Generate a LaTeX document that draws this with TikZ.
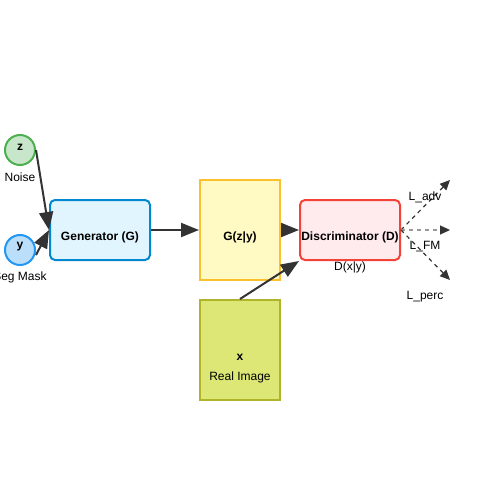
\documentclass[tikz,border=0pt]{standalone}
\usepackage{fontspec}
\setmainfont{Liberation Sans}
\usetikzlibrary{arrows.meta}
\definecolor{gfill}{HTML}{E1F5FE}\definecolor{gdraw}{HTML}{0288D1}
\definecolor{yfill}{HTML}{FFF9C4}\definecolor{ydraw}{HTML}{FBC02D}
\definecolor{dfill}{HTML}{FFEBEE}\definecolor{ddraw}{HTML}{F44336}
\definecolor{rfill}{HTML}{DCE775}\definecolor{rdraw}{HTML}{AFB42B}
\definecolor{zfill}{HTML}{C8E6C9}\definecolor{zdraw}{HTML}{4CAF50}
\definecolor{cfill}{HTML}{BBDEFB}\definecolor{cdraw}{HTML}{2196F3}
\definecolor{arr}{HTML}{333333}
\tikzset{
  box/.style={draw, line width=2pt, minimum width=100pt, minimum height=60pt, inner sep=0pt},
  circ/.style={circle, draw, line width=2pt, minimum size=30pt, inner sep=0pt, font=\fontsize{12}{14}\selectfont\bfseries},
  lbl/.style={font=\fontsize{12}{14}\selectfont, inner sep=0pt},
  blbl/.style={font=\fontsize{12}{14}\selectfont\bfseries, inner sep=0pt},
  conn/.style={draw=arr, line width=2pt, -{Triangle[length=18pt,width=14pt]}},
  dconn/.style={draw=arr, line width=1.2pt, dash pattern=on 4pt off 4pt, -{Triangle[length=10pt,width=9pt,color=arr]}},
}
\begin{document}
\begin{tikzpicture}[x=1pt,y=-1pt]
\useasboundingbox (0,0) rectangle (500,500);
\node[circ, fill=zfill, draw=zdraw] (z) at (20,150) {};
\node[blbl] at (20,147) {z};
\node[lbl] (noise) at (20,177) {Noise};
\node[circ, fill=cfill, draw=cdraw] (y) at (20,250) {};
\node[blbl] at (20,247) {y};
\node[lbl] (seg) at (20,277) {Seg Mask};
\node[box, rounded corners=5pt, fill=gfill, draw=gdraw] (G) at (100,230) {};
\node[blbl] at (100,237) {Generator (G)};
\node[box, minimum width=80pt, minimum height=100pt, fill=yfill, draw=ydraw] (Gz) at (240,230) {};
\node[blbl] at (240,237) {G(z|y)};
\node[box, rounded corners=5pt, fill=dfill, draw=ddraw] (D) at (350,230) {};
\node[blbl] at (350,237) {Discriminator (D)};
\node[lbl] (dxy) at (350,267) {D(x|y)};
\node[box, minimum width=80pt, minimum height=100pt, fill=rfill, draw=rdraw] (X) at (240,350) {};
\node[blbl] at (240,357) {x};
\node[lbl] at (240,377) {Real Image};
\coordinate (a1) at (450,180);
\coordinate (a2) at (450,230);
\coordinate (a3) at (450,280);
\draw[conn] (z.east) -- (G.west);
\draw[conn] ([yshift=-5pt]y.east) -- (G.west);
\draw[conn] (G.east) -- (Gz.west);
\draw[conn] (Gz.east) -- (D.west);
\draw[conn] (X.north) -- (D.south west);
\draw[dconn] (D.east) -- (a1);
\draw[dconn, draw=gray!80] (D.east) -- (a2);
\draw[dconn] (D.east) -- (a3);
\node[lbl] (ladv) at (425,197) {L\_adv};
\node[lbl] (lfm) at (425,247) {L\_FM};
\node[lbl] (lperc) at (425,297) {L\_perc};
\end{tikzpicture}
\end{document}
